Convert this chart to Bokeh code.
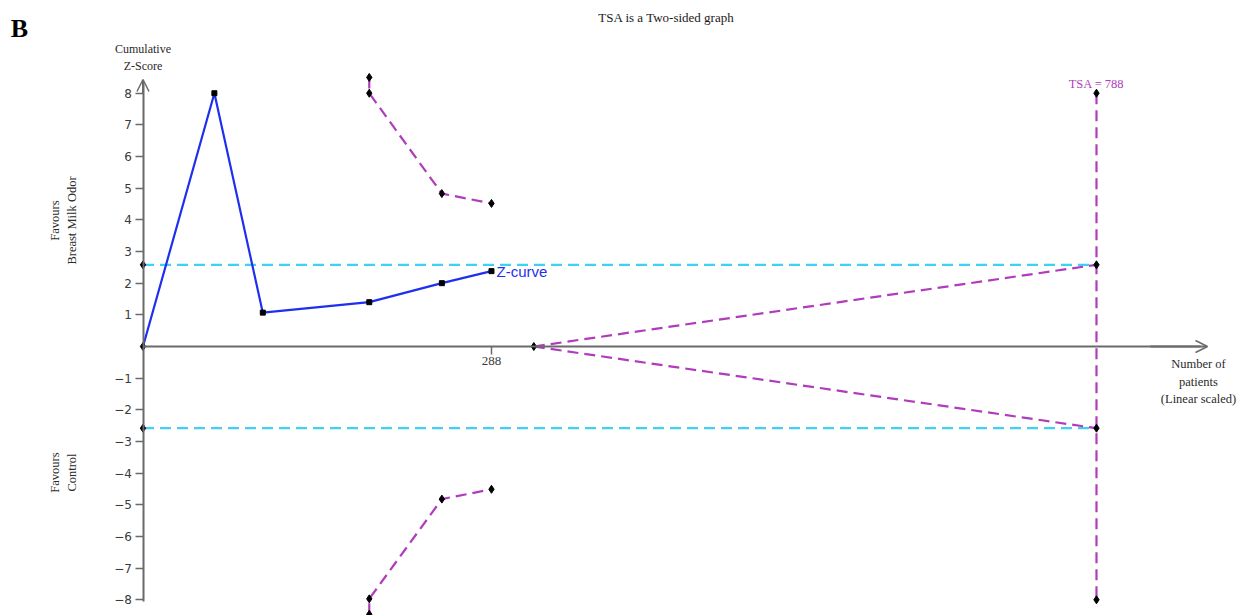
from bokeh.plotting import figure
from bokeh.models import LinearAxis, FixedTicker, Arrow, OpenHead, Range1d
from bokeh.embed import file_html
from bokeh.resources import INLINE
from bokeh.core.properties import value

# ---- data ----
z_patients = [0, 59, 99, 187, 247, 288]
z_scores = [0.0, 8.0, 1.07, 1.40, 2.00, 2.38]

bound_patients = [187, 187, 247, 288]
upper_bound = [8.50, 8.00, 4.83, 4.52]
lower_bound = [-8.46, -7.97, -4.82, -4.51]

crit_value = 2.58
tsa_patients = 788
futility_start = 323
tsa_label = "TSA = 788"
x_ticks = [288]
y_ticks = [-8, -7, -6, -5, -4, -3, -2, -1, 1, 2, 3, 4, 5, 6, 7, 8]

# ---- geometry (page pixels -> data) ----
X0, XS = 142.5, 1.21      # page x of 0 patients, px per patient
Y0, YS = 346.0, 31.66     # page y of z=0, px per z unit
W, H = 1239, 615

def dx(px):
    return (px - X0) / XS

def dy(py):
    return (Y0 - py) / YS

MAGENTA = "#b03cbc"
BLUE = "#1f2ff0"
CYAN = "#3fd0f5"
GRAY = "#6a6a6a"
SERIF = "Liberation Serif"
DASH = "11 6"

p = figure(width=W, height=H, output_backend="svg", toolbar_location=None,
           x_axis_type=None, y_axis_type=None,
           x_range=Range1d(dx(0), dx(W)), y_range=Range1d(dy(H), dy(0)),
           min_border=0, min_border_left=0, min_border_right=0,
           min_border_top=0, min_border_bottom=0)
p.outline_line_color = None
p.background_fill_color = "white"
p.border_fill_color = "white"
p.xgrid.visible = False
p.ygrid.visible = False

# axes at fixed locations
yax = LinearAxis(fixed_location=0, ticker=FixedTicker(ticks=y_ticks),
                 bounds=(-8.04, 8.3))
yax.axis_line_color = GRAY
yax.axis_line_width = 2
yax.major_tick_line_color = GRAY
yax.major_tick_line_width = 1.5
yax.major_tick_out = 8
yax.major_tick_in = 0
yax.minor_tick_line_color = None
yax.major_label_text_font = "DejaVu Sans"
yax.major_label_text_font_size = "12px"
yax.major_label_text_color = "#3a3a3a"
yax.major_label_standoff = 3
p.add_layout(yax, "left")

xax = LinearAxis(fixed_location=0, ticker=FixedTicker(ticks=x_ticks),
                 bounds=(0, dx(1200)))
xax.axis_line_color = GRAY
xax.axis_line_width = 2
xax.major_tick_line_color = GRAY
xax.major_tick_line_width = 1.5
xax.major_tick_out = 8
xax.major_tick_in = 0
xax.minor_tick_line_color = None
xax.major_label_text_font = SERIF
xax.major_label_text_font_size = "13px"
xax.major_label_text_color = "#3a3a3a"
xax.major_label_standoff = 2
p.add_layout(xax, "below")

# axis arrows
p.add_layout(Arrow(end=OpenHead(size=12, line_color=GRAY, line_width=1.5),
                   x_start=0, y_start=8.0, x_end=0, y_end=dy(79),
                   line_color=GRAY, line_width=2))
p.add_layout(Arrow(end=OpenHead(size=12, line_color=GRAY, line_width=1.5),
                   x_start=dx(1150), y_start=0, x_end=dx(1207), y_end=0,
                   line_color=GRAY, line_width=2))

# critical value lines (cyan)
for s in (1, -1):
    p.line([0, tsa_patients], [s * crit_value, s * crit_value],
           line_color=CYAN, line_width=2.2, line_dash=DASH)

# TSA vertical line
p.line([tsa_patients, tsa_patients], [8, -8], line_color=MAGENTA,
       line_width=2.2, line_dash=DASH)

# futility wedge
for s in (1, -1):
    p.line([futility_start, tsa_patients], [0, s * crit_value],
           line_color=MAGENTA, line_width=2.2, line_dash=DASH)

# monitoring boundaries
p.line(bound_patients, upper_bound, line_color=MAGENTA, line_width=2.2, line_dash=DASH)
p.line(bound_patients, lower_bound, line_color=MAGENTA, line_width=2.2, line_dash=DASH)

# Z-curve
p.line(z_patients, z_scores, line_color=BLUE, line_width=2.2)
p.scatter(z_patients[1:], z_scores[1:], marker="square", size=5,
          fill_color="black", line_color="black")
p.scatter([z_patients[0]], [z_scores[0]], marker="diamond", size=8,
          fill_color="black", line_color="black")

# boundary markers
diam_x = bound_patients + bound_patients + [0, 0, futility_start] + [tsa_patients] * 4
diam_y = upper_bound + lower_bound + [crit_value, -crit_value, 0] + [8, crit_value, -crit_value, -8]
p.scatter(diam_x, diam_y, marker="diamond", size=8, fill_color="black", line_color="black")

# texts
def txt(x, y, s, font=SERIF, size="12px", color="#2a2a2a", align="center",
        baseline="middle", angle=0.0, style="normal", lh=1.25, xoff=0):
    p.text(x=[x], y=[y], text=[s], text_font=value(font), text_font_size=size,
           text_color=color, text_align=align, text_baseline=baseline,
           angle=angle, text_font_style=style, text_line_height=lh, x_offset=xoff)

txt(dx(19), dy(28), "B", size="26px", color="black", style="bold")
txt(dx(666), dy(17), "TSA is a Two-sided graph", size="13px", color="#1a1a1a")
txt(0, dy(57), "Cumulative\nZ-Score", size="12px", lh=1.25)
txt(dx(63), dy(220), "Favours\nBreast Milk Odor", size="12.5px", angle=1.5708, lh=1.2)
txt(dx(63), dy(472), "Favours\nControl", size="12.5px", angle=1.5708, lh=1.2)
txt(dx(1198), dy(381), "Number of\npatients\n(Linear scaled)", size="12.5px", lh=1.25)
txt(tsa_patients, dy(83), tsa_label, size="12.5px", color=MAGENTA)
txt(z_patients[-1], z_scores[-1], "Z-curve", font="Liberation Sans", size="15px",
    color=BLUE, align="left", xoff=5)

open("out.html", "w").write(file_html(p, INLINE))
